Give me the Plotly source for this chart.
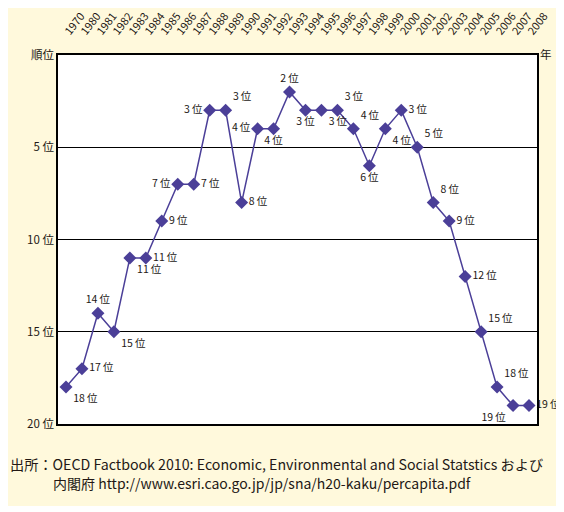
import plotly.graph_objects as go

# Japan's per-capita GDP rank among OECD countries
years = ["1970"] + [str(y) for y in range(1980, 2009)]
ranks = [18, 17, 14, 15, 11, 11, 9, 7, 7, 3,
         3, 8, 4, 4, 2, 3, 3, 3, 4, 6,
         4, 3, 5, 8, 9, 12, 15, 18, 19, 19]
label_pos = ["bottom right", "middle right", "top center", "bottom right", "bottom right",
             "middle right", "middle right", "middle left", "middle right", "middle left",
             "top right", "middle right", "middle left", "bottom center", "top center",
             "bottom center", "bottom right", "top right", "top right", "bottom center",
             "bottom right", "middle right", "top right", "top right", "middle right",
             "middle right", "top right", "top right", "bottom left", "middle right"]
y_ticks = [0, 5, 10, 15, 20]
y_labels = ["順位", "5 位", "10 位", "15 位", "20 位"]

FONT = "Noto Sans CJK JP"
INK = "#231815"
PURPLE = "#4B3F98"
CREAM = "#FFF9DC"


def main() -> None:
    fig = go.Figure(
        go.Scatter(
            x=years,
            y=ranks,
            mode="lines+markers+text",
            line=dict(color=PURPLE, width=1.5),
            marker=dict(symbol="diamond", size=10, color=PURPLE),
            text=[f"{r}\u2009位" for r in ranks],
            textposition=label_pos,
            textfont=dict(family=FONT, size=10.5, color=INK),
            cliponaxis=False,
            hoverinfo="skip",
        )
    )
    # cream panel behind everything, white plot area on top of it
    fig.add_shape(type="rect", xref="paper", yref="paper", x0=-0.2, x1=1.2, y0=-0.222, y1=1.3,
                  fillcolor=CREAM, line_width=0, layer="below")
    fig.add_shape(type="rect", xref="paper", yref="paper", x0=0, x1=1, y0=0, y1=1,
                  fillcolor="white", line_width=0, layer="below")

    fig.update_xaxes(
        type="category", side="top", range=[-0.5, 29.5], tickangle=-52, automargin=False,
        tickfont=dict(family=FONT, size=11, color=INK), ticks="", ticklabelstandoff=11,
        showgrid=False, showline=True, mirror=True, linecolor="black", linewidth=1.5,
    )
    fig.update_yaxes(
        range=[20, 0], tickvals=y_ticks, ticktext=y_labels, ticks="", automargin=False,
        tickfont=dict(family=FONT, size=11.5, color=INK),
        showgrid=True, gridcolor="black", gridwidth=1, zeroline=False,
        showline=True, mirror=True, linecolor="black", linewidth=1.5,
    )
    fig.add_annotation(text="年", xref="paper", yref="paper", x=1.036, y=1.03,
                       showarrow=False, font=dict(family=FONT, size=11.5, color=INK))
    fig.add_annotation(text="出所：OECD Factbook 2010: Economic, Environmental and Social Statstics および",
                       xref="paper", yref="paper", x=-0.104, y=-0.141, xanchor="left",
                       showarrow=False, font=dict(family=FONT, size=14.2, color=INK))
    fig.add_annotation(text="内閣府 http://www.esri.cao.go.jp/jp/sna/h20-kaku/percapita.pdf",
                       xref="paper", yref="paper", x=-0.015, y=-0.192, xanchor="left",
                       showarrow=False, font=dict(family=FONT, size=14, color=INK))

    # the page body adds an 8px offset, so the figure is 8px smaller than the window
    fig.update_layout(
        width=556, height=504,
        margin=dict(l=50, r=27, t=47, b=88),
        paper_bgcolor="white", plot_bgcolor="white",
        showlegend=False,
    )
    fig.write_html("out.html")


if __name__ == "__main__":
    main()
